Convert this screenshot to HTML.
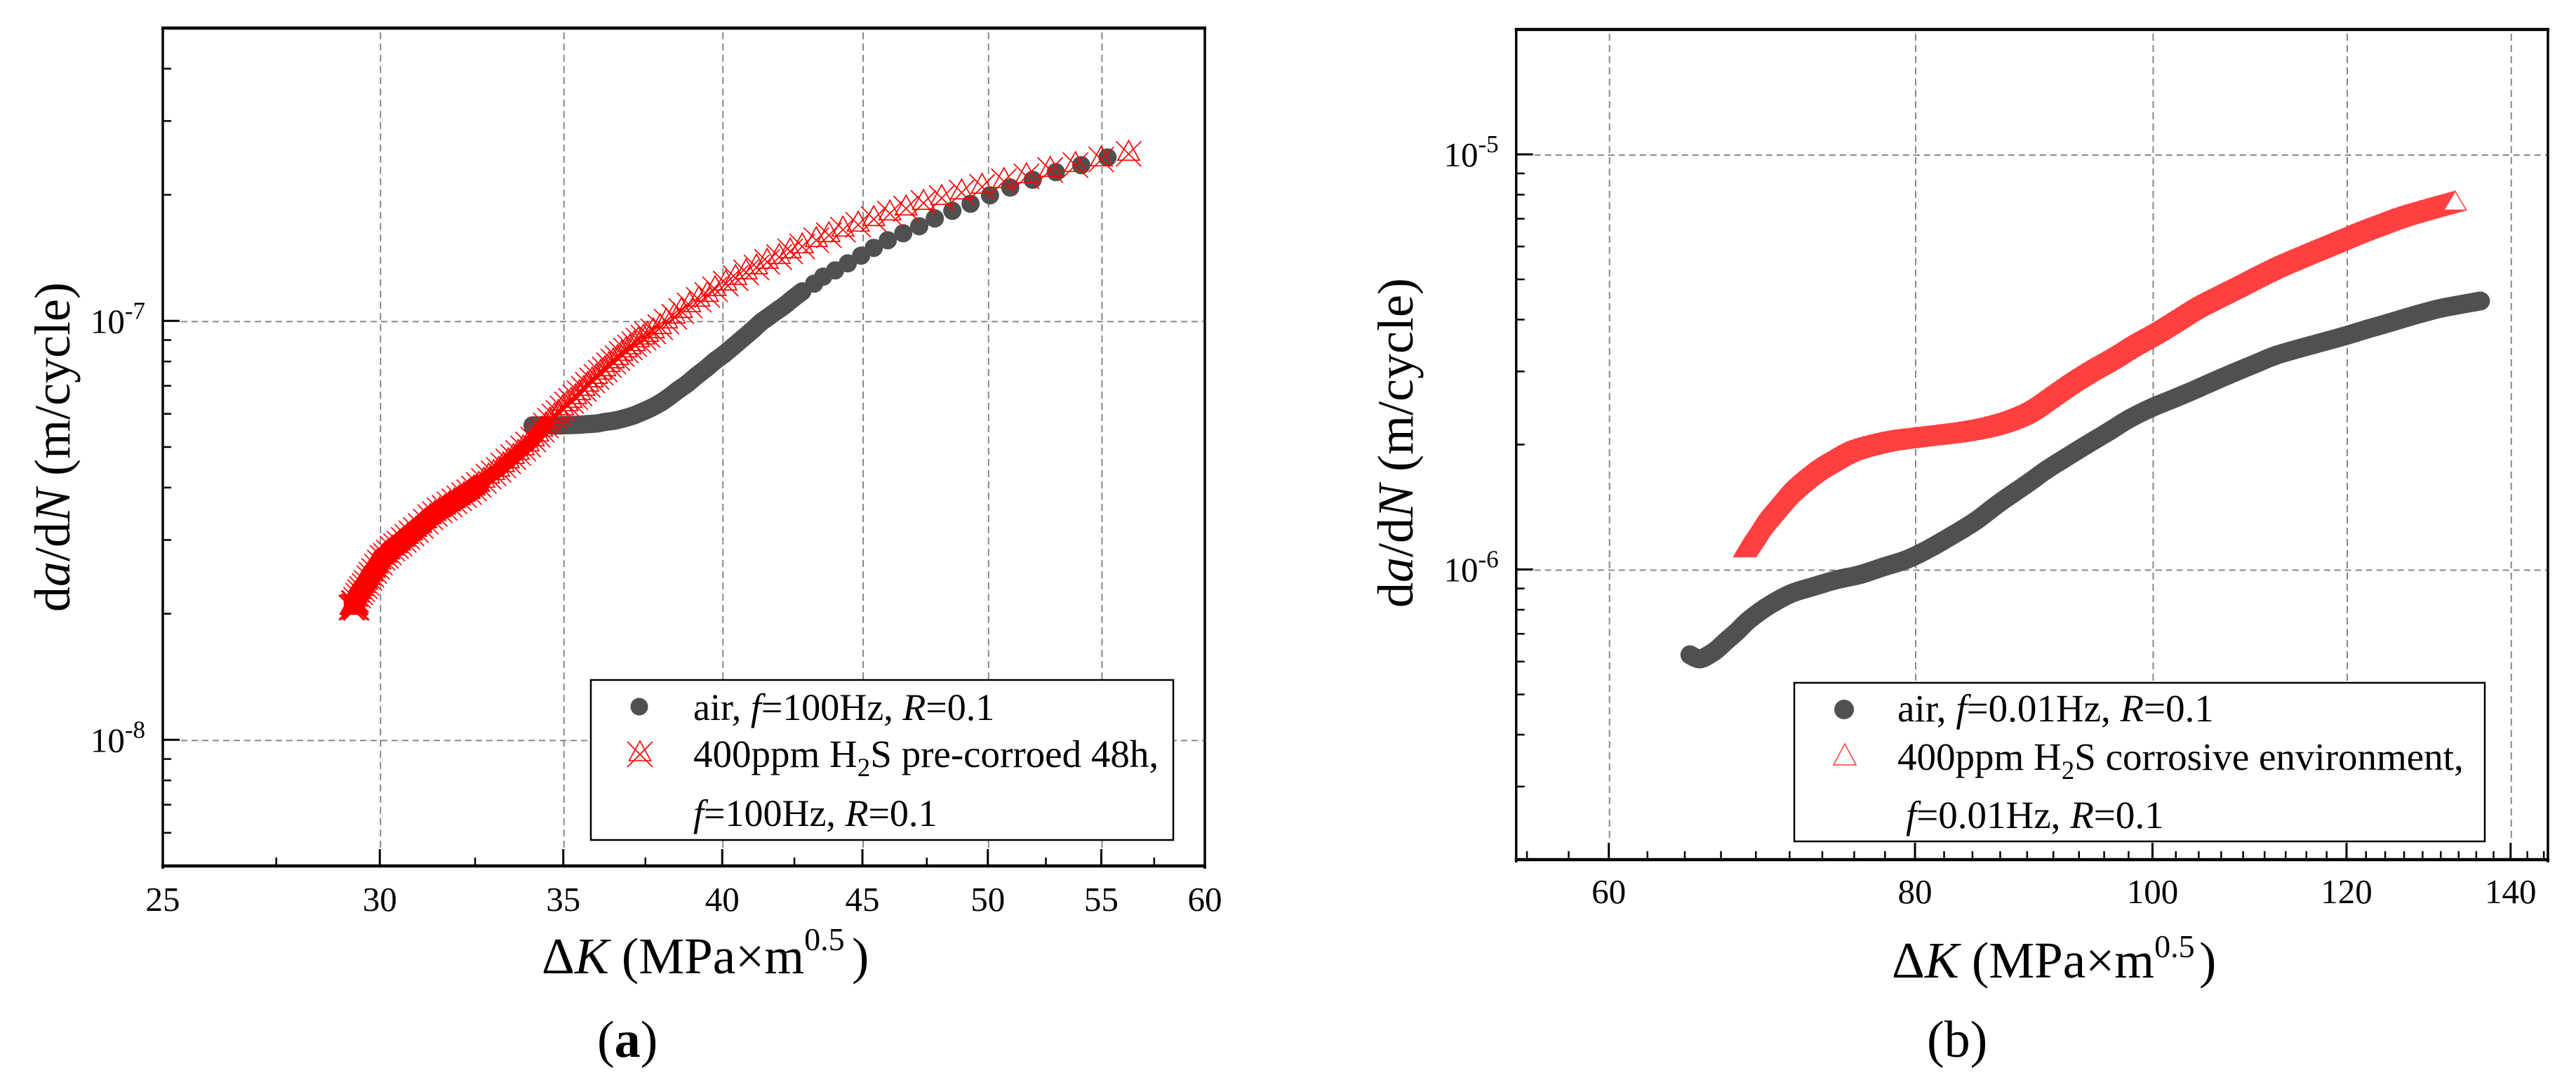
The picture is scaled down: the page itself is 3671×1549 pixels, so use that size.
<!DOCTYPE html>
<html lang="en">
<head>
<meta charset="utf-8">
<title>Fatigue crack growth rate charts</title>
<style>
html,body{margin:0;padding:0;background:#fff;}
svg{display:block;font-family:"Liberation Serif",serif;fill:#000;}
</style>
</head>
<body>
<svg id="figure" xmlns="http://www.w3.org/2000/svg" width="3671" height="1549" viewBox="0 0 3671 1549">
  <rect x="0" y="0" width="3671" height="1549" fill="#fff"/>
  <g id="panelA"></g>
  <g id="panelB"></g>

  <g>
    <rect x="842" y="969" width="830" height="228" fill="#fff" stroke="#000" stroke-width="2.5"/>
    <circle cx="911" cy="1007" r="12.5" fill="#505050"/>
    <path d="M912 1056L896.500 1084H927.500ZM894 1057L930 1093M930 1057L894 1093" fill="none" stroke="#f00" stroke-width="1.6"/>
    <text x="988" y="1026" font-size="54">air, <tspan font-style="italic">f</tspan>=100Hz, <tspan font-style="italic">R</tspan>=0.1</text>
    <text x="988" y="1093" font-size="55">400ppm H<tspan font-size="37" dy="13">2</tspan><tspan dy="-13">S pre-corroed 48h,</tspan></text>
    <text x="988" y="1177" font-size="54"><tspan font-style="italic">f</tspan>=100Hz, <tspan font-style="italic">R</tspan>=0.1</text>
  </g>

  <g>
    <rect x="2557" y="973" width="984" height="226" fill="#fff" stroke="#000" stroke-width="2.5"/>
    <circle cx="2628" cy="1011" r="14" fill="#505050"/>
    <path d="M2629 1060L2613 1090H2645Z" fill="none" stroke="#ff4040" stroke-width="1.6"/>
    <text x="2704" y="1028" font-size="55">air, <tspan font-style="italic">f</tspan>=0.01Hz, <tspan font-style="italic">R</tspan>=0.1</text>
    <text x="2704" y="1097" font-size="55">400ppm H<tspan font-size="37" dy="13">2</tspan><tspan dy="-13">S corrosive environment,</tspan></text>
    <text x="2716" y="1180" font-size="55"><tspan font-style="italic">f</tspan>=0.01Hz, <tspan font-style="italic">R</tspan>=0.1</text>
  </g>

  <text transform="translate(99 872) rotate(-90)" font-size="72">d<tspan font-style="italic">a</tspan>/d<tspan font-style="italic">N</tspan> (m/cycle)</text>
  <text transform="translate(2013 866) rotate(-90)" font-size="72">d<tspan font-style="italic">a</tspan>/d<tspan font-style="italic">N</tspan> (m/cycle)</text>

  <text x="772" y="1387" font-size="73">Δ<tspan font-style="italic">K</tspan> (MPa×m<tspan font-size="46" dy="-33">0.5</tspan><tspan x="1214" y="1387">)</tspan></text>
  <text x="2696" y="1393" font-size="73">Δ<tspan font-style="italic">K</tspan> (MPa×m<tspan font-size="46" dy="-29">0.5</tspan><tspan x="3134" y="1393">)</tspan></text>

  <text x="851" y="1506" font-size="74">(<tspan font-weight="bold">a</tspan>)</text>
  <text x="2746" y="1506" font-size="74">(b)</text>
</svg>

<script>
// ---------- Panel (a) data: da/dN values are in units of 1e-8 m/cycle ----------
const aAirK = [34.11,34.37,34.63,34.90,35.17,35.44,35.71,35.99,36.26,36.54,36.82,37.11,37.39,37.68,37.97,38.26,38.56,38.85,39.15,39.45,39.76,40.07,40.38,40.69,41.00,41.32,41.59,41.86,42.15,42.45,42.78,43.21,43.54,43.98,44.45,44.95,45.43,45.97,46.57,47.20,47.82,48.53,49.28,50.09,50.95,51.92,52.94,54.08,55.29];
const aAirRate = [5.63,5.63,5.63,5.63,5.64,5.65,5.67,5.69,5.74,5.78,5.85,5.94,6.06,6.20,6.37,6.59,6.85,7.09,7.40,7.69,8.03,8.34,8.70,9.08,9.47,9.92,10.23,10.55,10.89,11.31,11.76,12.27,12.75,13.20,13.72,14.31,14.94,15.58,16.19,16.83,17.56,18.32,19.04,19.94,20.81,21.71,22.65,23.54,24.56];
const aH2sK = [29.36,29.30,29.41,29.36,29.41,29.46,29.51,29.56,29.62,29.67,29.74,29.79,29.86,29.93,30.00,30.07,30.15,30.23,30.32,30.41,30.50,30.61,30.70,30.81,30.92,31.05,31.18,31.30,31.42,31.55,31.68,31.81,31.94,32.07,32.20,32.34,32.47,32.60,32.74,32.87,33.01,33.15,33.28,33.42,33.56,33.70,33.84,33.98,34.13,34.25,34.37,34.49,34.61,34.74,34.86,34.98,35.11,35.23,35.36,35.48,35.61,35.73,35.86,35.99,36.12,36.24,36.37,36.50,36.63,36.76,36.89,37.02,37.15,37.28,37.44,37.57,37.75,37.97,38.17,38.42,38.65,38.92,39.22,39.50,39.76,40.12,40.45,40.81,41.17,41.54,41.96,42.35,42.78,43.29,43.75,44.27,44.84,45.43,46.05,46.68,47.37,48.10,48.91,49.76,50.68,51.65,52.69,53.82,55.00,56.28];
const aH2sRate = [2.08,2.07,2.07,2.12,2.16,2.21,2.25,2.29,2.33,2.37,2.43,2.48,2.53,2.59,2.65,2.72,2.75,2.80,2.86,2.90,2.94,3.00,3.05,3.11,3.17,3.24,3.32,3.40,3.46,3.53,3.58,3.65,3.71,3.77,3.84,3.90,3.98,4.06,4.15,4.25,4.33,4.41,4.52,4.62,4.73,4.84,4.96,5.07,5.21,5.35,5.50,5.63,5.78,5.92,6.03,6.18,6.32,6.44,6.57,6.72,6.88,7.04,7.21,7.35,7.52,7.66,7.84,8.00,8.15,8.34,8.50,8.64,8.80,8.98,9.12,9.26,9.44,9.66,9.96,10.23,10.55,10.89,11.23,11.53,11.90,12.27,12.65,13.05,13.41,13.83,14.20,14.65,15.05,15.58,16.01,16.51,16.96,17.49,18.04,18.54,19.12,19.64,20.25,20.89,21.55,22.13,22.92,23.54,24.28,25.04];
const aXTicks = [25,30,35,40,45,50,55,60];
const aXMinorTicks = [27.5,32.5,37.5,42.5,47.5,52.5,57.5];
const aXGrid = [30,35,40,45,50,55];
const aYDecades = [-8,-7];
const aYMinorTicks = [6e-9,7e-9,8e-9,9e-9,2e-8,3e-8,4e-8,5e-8,6e-8,7e-8,8e-8,9e-8,2e-7,3e-7,4e-7];

// ---------- Panel (b) data: da/dN values are in units of 1e-7 m/cycle ----------
const bAirK = [64.75,65.36,66.01,66.44,67.02,67.68,68.22,68.81,69.81,71.21,72.68,74.33,75.97,77.64,79.41,81.05,82.84,84.72,86.58,88.84,90.50,92.31,94.09,95.98,97.83,99.93,101.87,103.83,105.84,107.96,110.05,112.17,114.42,116.63,120.03,122.36,124.64,127.72,130.88,133.58,136.09];
const bAirRate = [6.23,6.09,6.26,6.43,6.74,7.09,7.43,7.75,8.22,8.75,9.09,9.45,9.72,10.14,10.58,11.22,12.08,13.11,14.45,16.05,17.36,18.69,20.04,21.50,23.06,24.54,25.71,26.95,28.34,29.81,31.24,32.73,33.90,34.97,36.65,37.95,39.15,40.87,42.49,43.49,44.35];
const bH2sK = [68.18,68.67,69.13,69.77,70.51,70.98,71.78,72.78,73.89,74.97,76.22,78.00,80.03,82.24,83.77,85.45,87.16,88.84,90.56,92.31,94.09,95.98,97.83,99.93,101.87,103.83,105.84,107.96,110.05,112.17,114.42,116.63,118.88,121.15,123.50,125.97,129.42,132.89];
const bH2sRate = [11.22,11.94,12.71,13.58,14.62,15.26,16.18,17.22,18.18,19.05,19.66,20.28,20.68,21.08,21.41,21.92,22.70,23.88,25.81,27.90,29.93,31.98,34.30,36.79,39.46,42.32,44.87,47.56,50.42,53.25,56.01,58.70,61.50,64.44,67.26,70.20,73.56,76.78];
const bXTicks = [60,80,100,120,140];
const bXMinorTicks = [55.56,57.78,62.22,64.44,66.67,68.89,71.11,73.33,75.56,77.78,82.22,84.44,86.67,88.89,91.11,93.33,95.56,97.78,102.22,104.44,106.67,108.89,111.11,113.33,115.56,117.78,122.22,124.44,126.67,128.89,131.11,133.33,135.56,137.78,142.22,144.44];
const bXGrid = [60,80,100,120,140];
const bYDecades = [-6,-5];
const bYMinorTicks = [3e-7,4e-7,5e-7,6e-7,7e-7,8e-7,9e-7,2e-6,3e-6,4e-6,5e-6,6e-6,7e-6,8e-6,9e-6];

const SVGNS = 'http://www.w3.org/2000/svg';
const AIR_COLOR = '#505050';
const RED_A = '#ff0000';
const RED_B = '#ff4040';

function make(tag, attrs, parent) {
  const el = document.createElementNS(SVGNS, tag);
  for (const k in attrs) el.setAttribute(k, attrs[k]);
  parent.appendChild(el);
  return el;
}

function logScale(d0, d1, r0, r1) {
  const span = Math.log10(d1) - Math.log10(d0);
  return v => r0 + (Math.log10(v) - Math.log10(d0)) / span * (r1 - r0);
}

function drawAxes(root, cfg) {
  const x = cfg.x, y = cfg.y, L = cfg.left, R = cfg.right, T = cfg.top, B = cfg.bottom;
  cfg.grid.forEach(v => {
    const el = make('line', {x1: x(v) + 1, x2: x(v) + 1, y1: T + 6, y2: B - 26, stroke: '#888', 'stroke-width': 2, 'stroke-dasharray': '10 6'}, root);
    
    
  });
  cfg.decades.forEach(e => {
    const py = y(Math.pow(10, e));
    const el = make('line', {x1: L + 26, x2: R, y1: py + 1, y2: py + 1, stroke: '#888', 'stroke-width': 2, 'stroke-dasharray': '9 6'}, root);
    
    
  });
  const frame = make('g', {stroke: '#000', fill: 'none'}, root);
  
  
  make('line', {x1: L - 2, x2: R + 2, y1: T, y2: T, 'stroke-width': 4.5}, frame);
  make('line', {x1: L - 2, x2: R + 2, y1: B, y2: B, 'stroke-width': 4.5}, frame);
  make('line', {x1: L, x2: L, y1: T, y2: B + 4, 'stroke-width': 3.5}, frame);
  make('line', {x1: R, x2: R, y1: T, y2: B + 4, 'stroke-width': 3.5}, frame);

  cfg.xTicks.forEach(v => {
    const px = x(v);
    if (px > L + 2 && px < R - 2) {
      const t = make('line', {x1: px, x2: px, y1: B, y2: B - 24, stroke: '#000', 'stroke-width': 3}, root);
      
      
    }
    const lab = make('text', {x: px, y: cfg.xLabelY, 'font-size': 49, 'text-anchor': 'middle'}, root);
    lab.textContent = String(v);
    
    
  });
  cfg.xMinor.forEach(v => {
    const t = make('line', {x1: x(v), x2: x(v), y1: B, y2: B - 12, stroke: '#000', 'stroke-width': 2.5}, root);
    
    
  });
  cfg.yMinor.forEach(v => {
    const t = make('line', {x1: L, x2: L + 12, y1: y(v), y2: y(v), stroke: '#000', 'stroke-width': 2.5}, root);
    
    
  });
  cfg.decades.forEach(e => {
    const py = y(Math.pow(10, e));
    const t = make('line', {x1: L, x2: L + 24, y1: py, y2: py, stroke: '#000', 'stroke-width': 3}, root);
    
    
    const lab = make('text', {x: L - 25, y: py + 17, 'font-size': 49, 'text-anchor': 'end'}, root);
    
    
    lab.appendChild(document.createTextNode('10'));
    const sup = make('tspan', {'font-size': 35, dy: -20}, lab);
    sup.textContent = String(e);
  });
}

function pointList(ks, rates, unit, x, y) {
  return ks.map((k, i) => [x(k), y(rates[i] * unit)]);
}

// Screen-space Catmull-Rom rounding so thick bands do not show corners.
function rounded(pts, steps) {
  const out = [];
  for (let i = 0; i < pts.length - 1; i++) {
    const p0 = pts[Math.max(i - 1, 0)], p1 = pts[i], p2 = pts[i + 1], p3 = pts[Math.min(i + 2, pts.length - 1)];
    for (let s = 0; s < steps; s++) {
      const t = s / steps, t2 = t * t, t3 = t2 * t;
      const c = k => 0.5 * (2 * p1[k] + (p2[k] - p0[k]) * t + (2 * p0[k] - 5 * p1[k] + 4 * p2[k] - p3[k]) * t2 + (3 * p1[k] - p0[k] - 3 * p2[k] + p3[k]) * t3);
      out.push([c(0), c(1)]);
    }
  }
  out.push(pts[pts.length - 1]);
  return out;
}

function drawCircles(root, pts, r, name) {
  pts.forEach(p => {
    const el = make('circle', {cx: p[0], cy: p[1], r: r, fill: AIR_COLOR}, root);
    
    
  });
}

function drawStarMarkers(root, pts, filledCount, name) {
  pts.forEach((p, i) => {
    const cx = p[0], cy = p[1];
    const tri = 'M' + cx + ' ' + (cy - 19) + 'L' + (cx - 15.5) + ' ' + (cy + 9) + 'H' + (cx + 15.5) + 'Z';
    const cross = 'M' + (cx - 18) + ' ' + (cy - 18) + 'L' + (cx + 18) + ' ' + (cy + 18) +
      'M' + (cx + 18) + ' ' + (cy - 18) + 'L' + (cx - 18) + ' ' + (cy + 18);
    const el = make('path', {d: tri + cross, fill: i < filledCount ? RED_A : 'none', stroke: RED_A, 'stroke-width': i < filledCount ? 3 : 1.7}, root);
    
    
  });
}

function drawBand(root, pts, width, color, name) {
  const el = make('polyline', {points: rounded(pts, 6).map(p => p.join(',')).join(' '), fill: 'none', stroke: color, 'stroke-width': width, 'stroke-linecap': 'round', 'stroke-linejoin': 'round'}, root);
  
  
}

function triVerts(p) {
  return [[p[0], p[1] - 15.5], [p[0] + 16, p[1] + 11.5], [p[0] - 16, p[1] + 11.5]];
}

function drawTriangleSweep(root, dataPts, name) {
  const pts = rounded(dataPts, 4);
  pts.forEach((p, i) => {
    const v = triVerts(p);
    const isLast = i === pts.length - 1;
    if (i > 0) {
      const u = triVerts(pts[i - 1]);
      for (let k = 0; k < 3; k++) {
        const n = (k + 1) % 3;
        const q = make('polygon', {points: [u[k], v[k], v[n], u[n]].map(a => a.join(',')).join(' '), fill: RED_B, stroke: RED_B, 'stroke-width': 1}, root);
        
        
      }
    }
    const t = make('polygon', {points: v.map(a => a.join(',')).join(' '), fill: isLast ? '#fff' : RED_B, stroke: RED_B, 'stroke-width': 1.5}, root);
    
    
  });
}

// ---------- Panel (a) ----------
const ax = logScale(25, 60, 232, 1717);
const ay = logScale(5e-9, 5e-7, 1234, 40);
const panelA = document.getElementById('panelA');
drawAxes(panelA, {x: ax, y: ay, left: 232, right: 1717, top: 40, bottom: 1234, grid: aXGrid, decades: aYDecades, xTicks: aXTicks, xMinor: aXMinorTicks, yMinor: aYMinorTicks, xLabelY: 1298});
const aAirPts = pointList(aAirK, aAirRate, 1e-8, ax, ay);
drawBand(panelA, aAirPts.slice(0, 31), 26, AIR_COLOR, 'air-100hz-dense-band');
drawCircles(panelA, aAirPts, 13, 'air-100hz-point');
const aRedPts = pointList(aH2sK, aH2sRate, 1e-8, ax, ay);
drawBand(panelA, aRedPts.slice(3, 38), 30, RED_A, 'h2s-100hz-dense-core');
drawBand(panelA, aRedPts.slice(37, 52), 21, RED_A, 'h2s-100hz-dense-core');
drawBand(panelA, aRedPts.slice(51, 72), 7, RED_A, 'h2s-100hz-dense-core');
drawStarMarkers(panelA, aRedPts, 4, 'h2s-100hz-point');

// ---------- Panel (b) ----------
const bx = logScale(55, 145, 2160.7, 3631);
const by = logScale(2e-7, 2e-5, 1225, 42);
const panelB = document.getElementById('panelB');
drawAxes(panelB, {x: bx, y: by, left: 2160.7, right: 3631, top: 42, bottom: 1225, grid: bXGrid, decades: bYDecades, xTicks: bXTicks, xMinor: bXMinorTicks, yMinor: bYMinorTicks, xLabelY: 1287});
drawBand(panelB, pointList(bAirK, bAirRate, 1e-7, bx, by), 27, AIR_COLOR, 'air-001hz-series');
drawTriangleSweep(panelB, pointList(bH2sK, bH2sRate, 1e-7, bx, by), 'h2s-001hz-point');
</script>
</body>
</html>
